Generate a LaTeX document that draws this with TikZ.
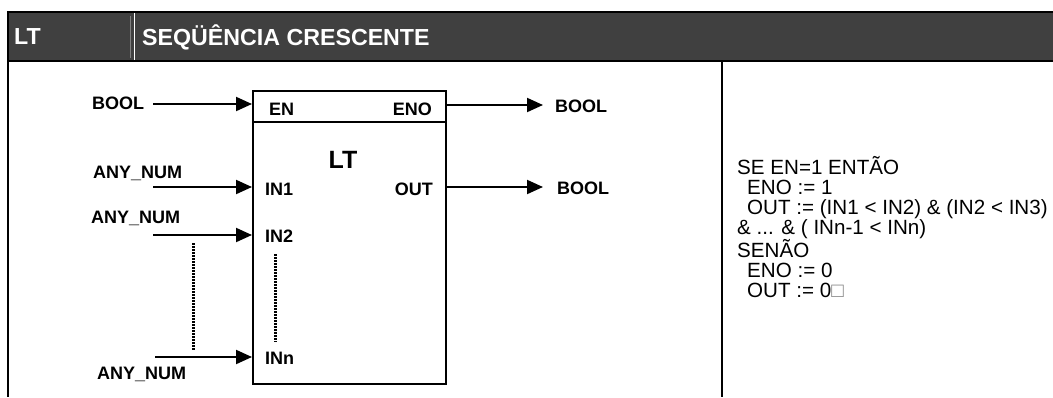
\documentclass[tikz,border=0pt]{standalone}
\usepackage{fontspec}
\setmainfont{Liberation Sans}
\usetikzlibrary{arrows.meta}
\definecolor{hdrgray}{RGB}{64,64,64}
\newcommand{\pinfont}{\fontsize{18}{20}\selectfont\bfseries}

\begin{document}
\begin{tikzpicture}[x=1pt,y=-1pt,
    hdrtext/.style={text=white,font=\fontsize{23.2}{26}\selectfont\bfseries,inner sep=0},
    pin/.style={font=\pinfont,inner sep=0},
    sig/.style={-{Triangle[length=16pt,width=14pt]},line width=2pt},
    frame/.style={line width=2pt},
    dotline/.style={line width=3pt,dash pattern=on 2pt off 1pt}]
    \useasboundingbox (0,0) rectangle (1053,397);
    % header band
    \fill[hdrgray] (8,12) rectangle (1053,61);
    \draw[line width=1.5pt] (8,12) -- (1053,12);
    \draw[frame] (8,61) -- (1053,61);
    \draw[frame] (8,11) -- (8,397);
    \draw[frame] (722,61) -- (722,397);
    \draw[white,line width=1.5pt] (134.5,12.8) -- (134.5,60);
    \draw[gray,line width=0.6pt] (130,16) -- (130,58);
    \node[hdrtext,anchor=west] (hlt) at (14,37) {LT};
    \node[hdrtext,anchor=west] (htitle) at (142,37) {SEQÜÊNCIA CRESCENTE};

    % function block
    \node[draw,frame,anchor=north west,minimum width=193,minimum height=293,inner sep=0] (blk) at (252,90) {};
    \draw[frame] ([yshift=-32]blk.north west) -- ([yshift=-32]blk.north east);
    \node[pin,anchor=west] (en) at (269,109) {EN};
    \node[pin,anchor=east] (eno) at (432,109) {ENO};
    \node[font=\fontsize{25}{26}\selectfont\bfseries,inner sep=0] (fname) at (343,160) {LT};
    \node[pin,anchor=west] (in1) at (265,189) {IN1};
    \node[pin,anchor=east] (out) at (433,189) {OUT};
    \node[pin,anchor=west] (in2) at (265,236) {IN2};
    \node[pin,anchor=west] (inn) at (265,358) {INn};

    % signals
    \node[pin,anchor=west] (t-en) at (92,103) {BOOL};
    \node[pin,anchor=west] (t-in1) at (93,173) {ANY\_NUM};
    \node[pin,anchor=west] (t-in2) at (91,218) {ANY\_NUM};
    \node[pin,anchor=west] (t-inn) at (97,374) {ANY\_NUM};
    \node[pin,anchor=west] (t-eno) at (555,106) {BOOL};
    \node[pin,anchor=west] (t-out) at (557,188) {BOOL};
    \coordinate (c-en) at (153,104);
    \coordinate (c-in1) at (153,187);
    \coordinate (c-in2) at (153,235);
    \coordinate (c-inn) at (155,357);
    \coordinate (c-eno) at (543,105);
    \coordinate (c-out) at (543,187);
    \path[sig]
        (c-en) edge (blk.west |- c-en)
        (c-in1) edge (blk.west |- c-in1)
        (c-in2) edge (blk.west |- c-in2)
        (c-inn) edge (blk.west |- c-inn)
        (blk.east |- c-eno) edge (c-eno)
        (blk.east |- c-out) edge (c-out);
    \draw[dotline] (193,243) -- (193,350);
    \draw[dotline] (275,254) -- (275,342);

    % description
    \node[anchor=north west,align=left,inner sep=0,font=\fontsize{20.6}{20}\selectfont] (desc) at (737,156)
        {SE EN=1 ENTÃO\\
         \hspace*{10pt}ENO := 1\\
         \hspace*{10pt}OUT := (IN1 < IN2) \& (IN2 < IN3)\\
         \& ... \& ( INn-1 < INn)\\
         SENÃO\\
         \hspace*{10pt}ENO := 0\\
         \hspace*{10pt}OUT := 0{\color{gray}□}};
\end{tikzpicture}
\end{document}
